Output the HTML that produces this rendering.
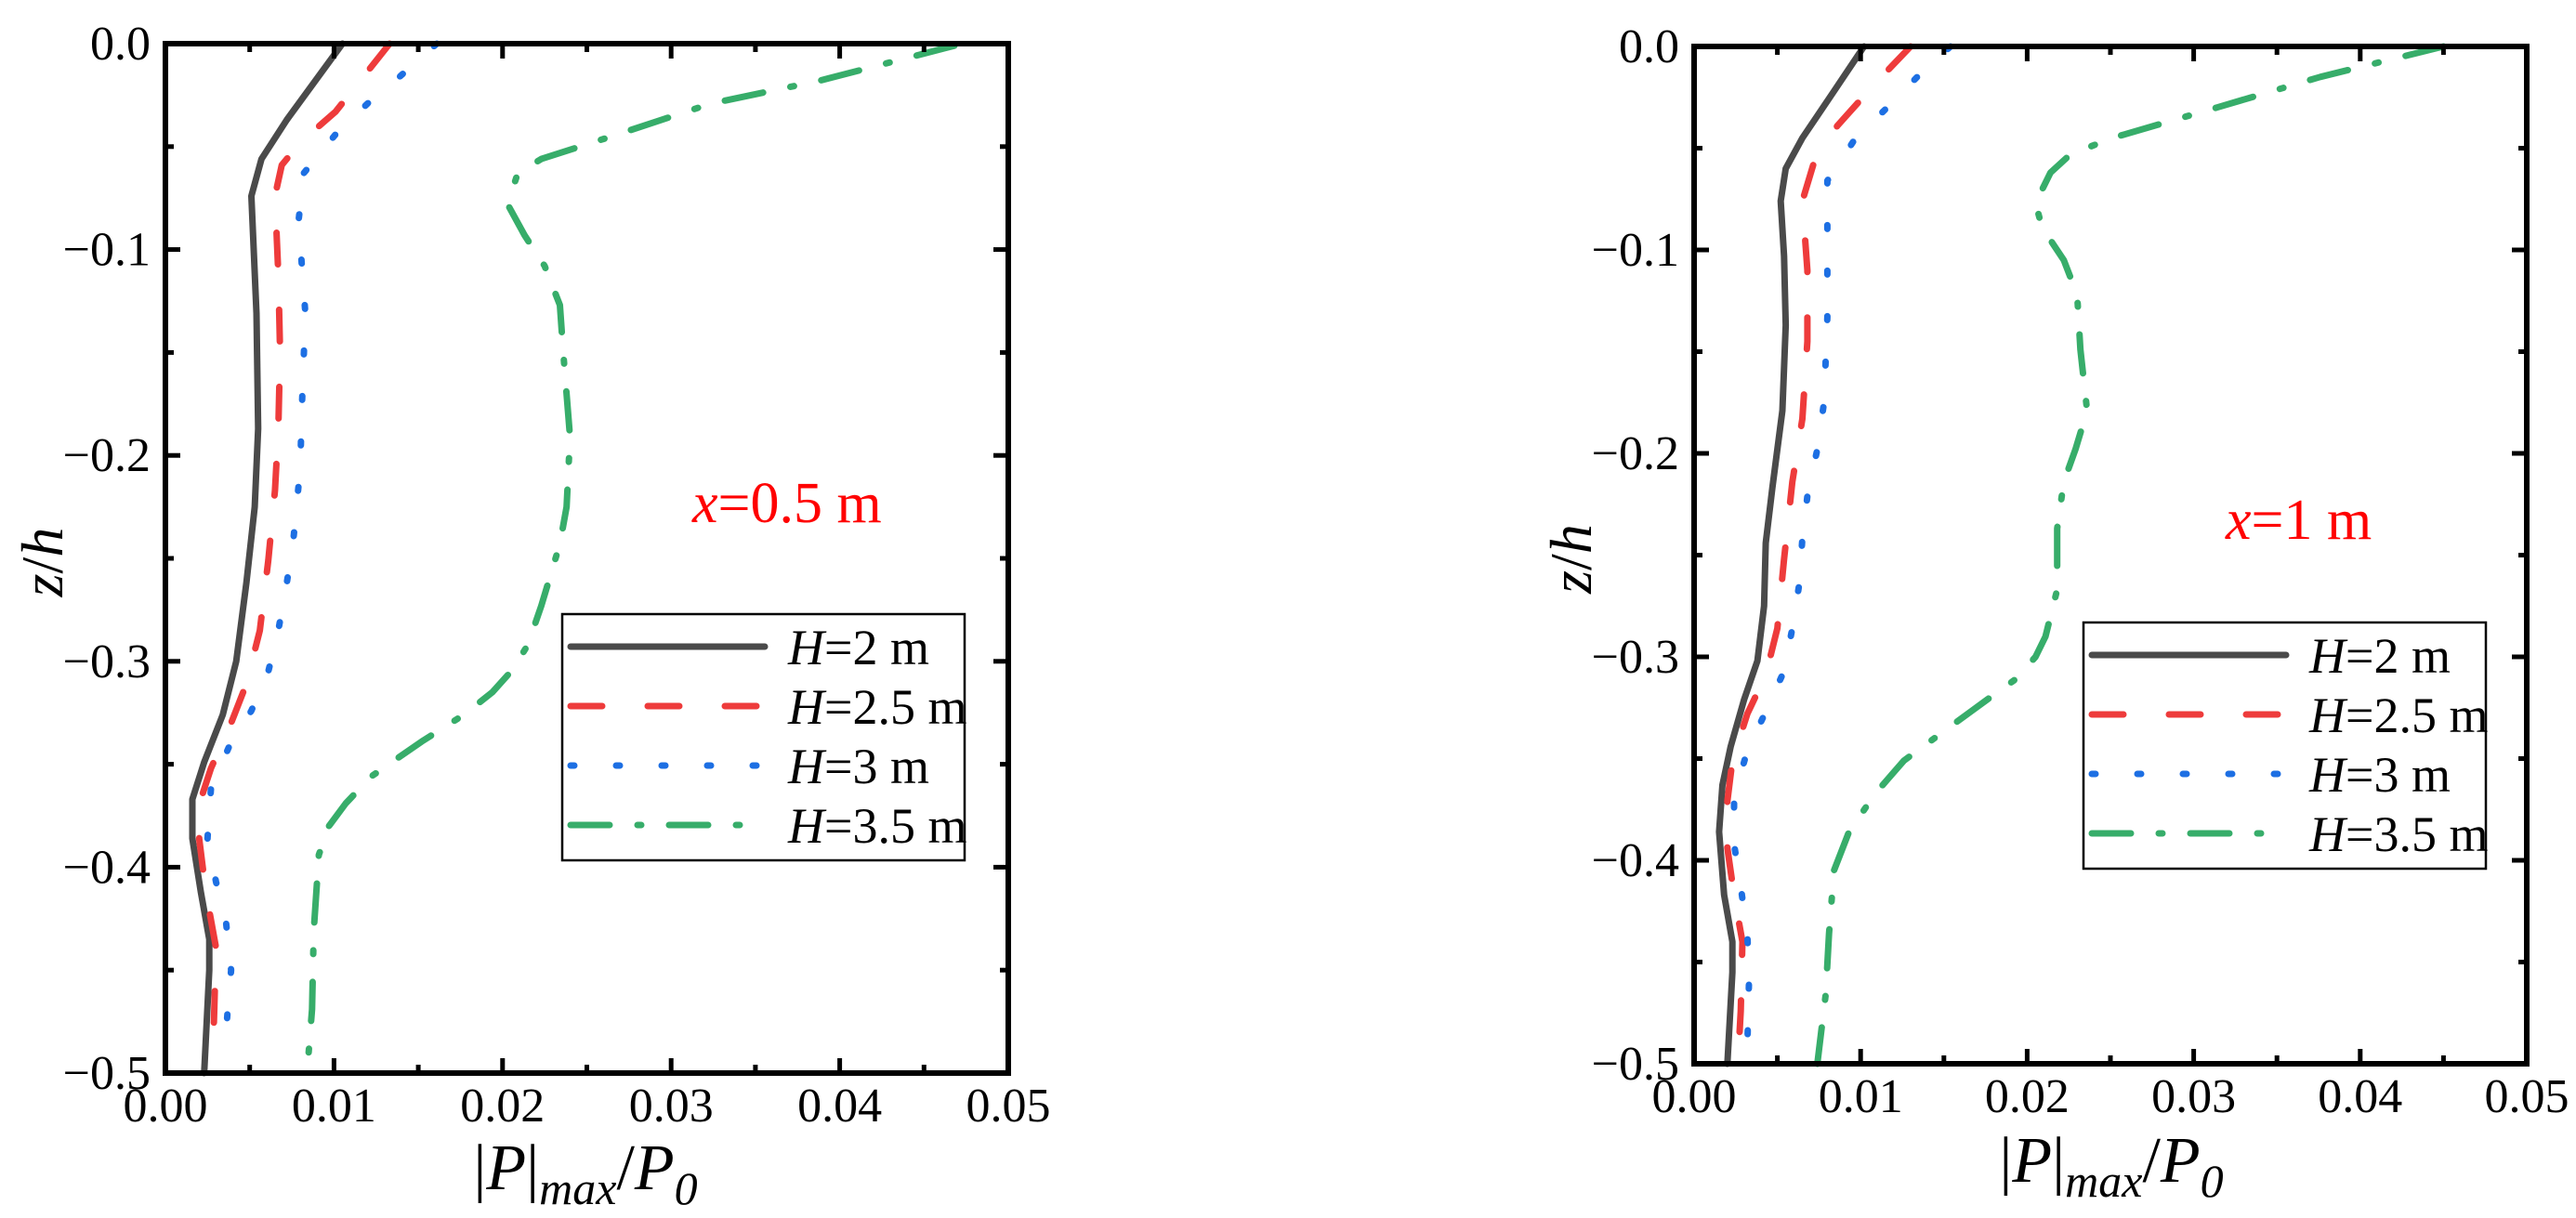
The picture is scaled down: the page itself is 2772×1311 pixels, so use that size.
<!DOCTYPE html>
<html><head><meta charset="utf-8"><style>
html,body{margin:0;padding:0;background:#fff;}
svg{display:block;font-family:"Liberation Serif",serif;}
</style></head><body>
<svg id="fig" width="2772" height="1311" viewBox="0 0 2772 1311" xmlns="http://www.w3.org/2000/svg"></svg>
<script>
const xTicks=[0,0.01,0.02,0.03,0.04,0.05];
const xTickLabels=["0.00","0.01","0.02","0.03","0.04","0.05"];
const yTicks=[0,-0.1,-0.2,-0.3,-0.4,-0.5];
const yTickLabels=["0.0","\u22120.1","\u22120.2","\u22120.3","\u22120.4","\u22120.5"];
const seriesNames=["H=2 m","H=2.5 m","H=3 m","H=3.5 m"];
// panel A (x=0.5 m): values [P, z]
const aH2=[[0.0105,0],[0.0072,-0.037],[0.0057,-0.056],[0.0051,-0.074],[0.0054,-0.131],[0.0055,-0.187],[0.0053,-0.225],[0.0048,-0.262],[0.0042,-0.30],[0.0034,-0.326],[0.0023,-0.349],[0.0016,-0.367],[0.0016,-0.386],[0.0021,-0.412],[0.0026,-0.435],[0.0026,-0.45],[0.0023,-0.5]];
const aH25=[[0.0133,0],[0.0101,-0.033],[0.0080,-0.048],[0.0069,-0.059],[0.0065,-0.074],[0.0067,-0.112],[0.0068,-0.15],[0.0067,-0.187],[0.0065,-0.217],[0.0061,-0.251],[0.0056,-0.285],[0.0048,-0.311],[0.0039,-0.33],[0.0027,-0.352],[0.0021,-0.367],[0.0020,-0.386],[0.0024,-0.412],[0.0030,-0.439],[0.0029,-0.469],[0.0028,-0.495]];
const aH3=[[0.0161,0],[0.0139,-0.016],[0.012,-0.029],[0.0101,-0.044],[0.0082,-0.063],[0.0079,-0.086],[0.0083,-0.131],[0.0081,-0.176],[0.008,-0.206],[0.0076,-0.24],[0.0072,-0.262],[0.0067,-0.285],[0.0061,-0.305],[0.0051,-0.324],[0.0038,-0.341],[0.0027,-0.362],[0.0025,-0.386],[0.003,-0.407],[0.0036,-0.427],[0.0039,-0.45],[0.0037,-0.469],[0.0035,-0.491]];
const aH35=[[0.0468,-0.001],[0.0388,-0.018],[0.0324,-0.029],[0.0261,-0.046],[0.0223,-0.056],[0.0209,-0.063],[0.0203,-0.078],[0.0213,-0.093],[0.0225,-0.108],[0.0234,-0.127],[0.0236,-0.15],[0.024,-0.191],[0.0238,-0.225],[0.0234,-0.243],[0.0223,-0.273],[0.0215,-0.292],[0.0206,-0.304],[0.0194,-0.315],[0.0177,-0.326],[0.0152,-0.339],[0.0122,-0.356],[0.0107,-0.369],[0.0097,-0.38],[0.0091,-0.394],[0.0088,-0.431],[0.0087,-0.469],[0.0084,-0.5]];
// panel B (x=1 m)
const bH2=[[0.0102,0],[0.0084,-0.022],[0.0065,-0.045],[0.0055,-0.06],[0.0052,-0.076],[0.0054,-0.103],[0.0055,-0.137],[0.0053,-0.179],[0.0047,-0.217],[0.0043,-0.244],[0.0042,-0.275],[0.0038,-0.302],[0.003,-0.321],[0.0022,-0.344],[0.0017,-0.363],[0.0015,-0.386],[0.0018,-0.417],[0.0023,-0.44],[0.0023,-0.455],[0.002,-0.5]];
const bH25=[[0.013,0],[0.0109,-0.018],[0.0086,-0.039],[0.0072,-0.057],[0.0065,-0.076],[0.0068,-0.11],[0.0068,-0.145],[0.0065,-0.183],[0.0059,-0.214],[0.0054,-0.252],[0.005,-0.286],[0.0043,-0.309],[0.0032,-0.328],[0.0023,-0.351],[0.002,-0.371],[0.002,-0.394],[0.0024,-0.417],[0.0029,-0.44],[0.0028,-0.474],[0.0027,-0.489]];
const bH3=[[0.0154,0],[0.0134,-0.015],[0.0116,-0.03],[0.0097,-0.045],[0.008,-0.066],[0.008,-0.11],[0.008,-0.133],[0.0078,-0.175],[0.0074,-0.198],[0.0068,-0.221],[0.0065,-0.242],[0.0063,-0.265],[0.0059,-0.286],[0.0054,-0.307],[0.0043,-0.327],[0.0032,-0.346],[0.0024,-0.369],[0.0024,-0.392],[0.0028,-0.413],[0.0032,-0.436],[0.0033,-0.459],[0.0032,-0.491]];
const bH35=[[0.045,0],[0.0376,-0.015],[0.0314,-0.03],[0.0251,-0.045],[0.0226,-0.053],[0.0214,-0.062],[0.0205,-0.077],[0.0209,-0.089],[0.0222,-0.105],[0.023,-0.122],[0.0232,-0.149],[0.0236,-0.179],[0.0229,-0.198],[0.0222,-0.214],[0.0218,-0.237],[0.0218,-0.267],[0.0211,-0.29],[0.0205,-0.3],[0.0193,-0.311],[0.0176,-0.321],[0.0151,-0.336],[0.0126,-0.351],[0.0109,-0.367],[0.0093,-0.386],[0.0084,-0.405],[0.0081,-0.436],[0.0079,-0.466],[0.0074,-0.5]];

const NS="http://www.w3.org/2000/svg";
const svg=document.getElementById('fig');
const styles=[{c:"#4a4a4a",d:""},{c:"#ee3b3b",d:"34 49"},{c:"#1d6fe3",d:"4 45"},{c:"#37ad6a",d:"42 30 4 30"}];
function mk(tag,attrs,parent){const e=document.createElementNS(NS,tag);for(const k in attrs)e.setAttribute(k,attrs[k]);(parent||svg).appendChild(e);return e;}

function panel(id,L,R,T,B,series,ann,annX,annY,leg,ytX,xtX,xtY){
  const g=mk('g',{});
  
  
  const sx=v=>L+(v-0)/(0.05)*(R-L);
  const sy=v=>T+(0-v)/(0.5)*(B-T);
  series.forEach((s,i)=>{
    const p=mk('polyline',{points:s.map(d=>sx(d[0]).toFixed(1)+','+sy(d[1]).toFixed(1)).join(' '),fill:'none',stroke:styles[i].c,'stroke-width':7,'stroke-linecap':'round','stroke-linejoin':'round'},g);
    if(styles[i].d)p.setAttribute('stroke-dasharray',styles[i].d);
    
    
  });
  const fr=mk('rect',{x:L,y:T,width:R-L,height:B-T,fill:'none',stroke:'#000','stroke-width':6},g);
  
  
  for(let k=0;k<=10;k++){
    const v=k*0.005, X=sx(v), len=(k%2==0)?16:9;
    mk('line',{x1:X,y1:B,x2:X,y2:B-len,stroke:'#000','stroke-width':5},g);
    mk('line',{x1:X,y1:T,x2:X,y2:T+len,stroke:'#000','stroke-width':5},g);
  }
  xTicks.forEach((v,i)=>{
    const t=mk('text',{x:sx(v),y:B+52,'font-size':52,'text-anchor':'middle'},g);
    t.textContent=xTickLabels[i];
    
    
  });
  for(let k=0;k<=10;k++){
    const v=-k*0.05, Y=sy(v), len=(k%2==0)?16:9;
    mk('line',{x1:L,y1:Y,x2:L+len,y2:Y,stroke:'#000','stroke-width':5},g);
    mk('line',{x1:R,y1:Y,x2:R-len,y2:Y,stroke:'#000','stroke-width':5},g);
  }
  yTicks.forEach((v,i)=>{
    const t=mk('text',{x:L-16,y:sy(v)+17,'font-size':52,'text-anchor':'end'},g);
    t.textContent=yTickLabels[i];
    
    
  });
  const cy=(T+B)/2+4;
  const yt=mk('text',{x:ytX,y:cy,'font-size':64,'text-anchor':'middle',transform:`rotate(-90 ${ytX} ${cy})`},g);
  yt.innerHTML='<tspan font-style="italic">z</tspan>/<tspan font-style="italic">h</tspan>';
  
  
  const xt=mk('text',{x:xtX,y:xtY,'font-size':70,'text-anchor':'middle'},g);
  xt.innerHTML='|<tspan font-style="italic">P</tspan>|<tspan font-style="italic" font-size="50" dy="16">max</tspan><tspan dy="-16">/</tspan><tspan font-style="italic">P</tspan><tspan font-style="italic" font-size="50" dy="16">0</tspan>';
  
  
  const an=mk('text',{x:annX,y:annY,'font-size':62,fill:'#ff0000'},g);
  an.innerHTML='<tspan font-style="italic">x</tspan>='+ann;
  
  
  const lg=mk('g',{},g);
  
  
  mk('rect',{x:leg.x,y:leg.y,width:433,height:265,fill:'#fff',stroke:'#000','stroke-width':2.5},lg);
  seriesNames.forEach((n,i)=>{
    const Y=leg.y+35+i*64;
    const e=mk('g',{},lg);
    
    
    const ln=mk('line',{x1:leg.x+9,y1:Y,x2:leg.x+218,y2:Y,stroke:styles[i].c,'stroke-width':7,'stroke-linecap':'round'},e);
    if(styles[i].d)ln.setAttribute('stroke-dasharray',styles[i].d);
    const t=mk('text',{x:leg.x+243,y:Y+19,'font-size':54},e);
    t.innerHTML='<tspan font-style="italic">H</tspan>='+n.slice(2);
  });
}
panel('panel-x-0-5m',178,1085,47,1155,[aH2,aH25,aH3,aH35],'0.5 m',745,562,{x:605,y:661},67,630,1280);
panel('panel-x-1m',1823,2719,50,1145,[bH2,bH25,bH3,bH35],'1 m',2395,580,{x:2242,y:670},1712,2272,1272);
</script>
</body></html>
